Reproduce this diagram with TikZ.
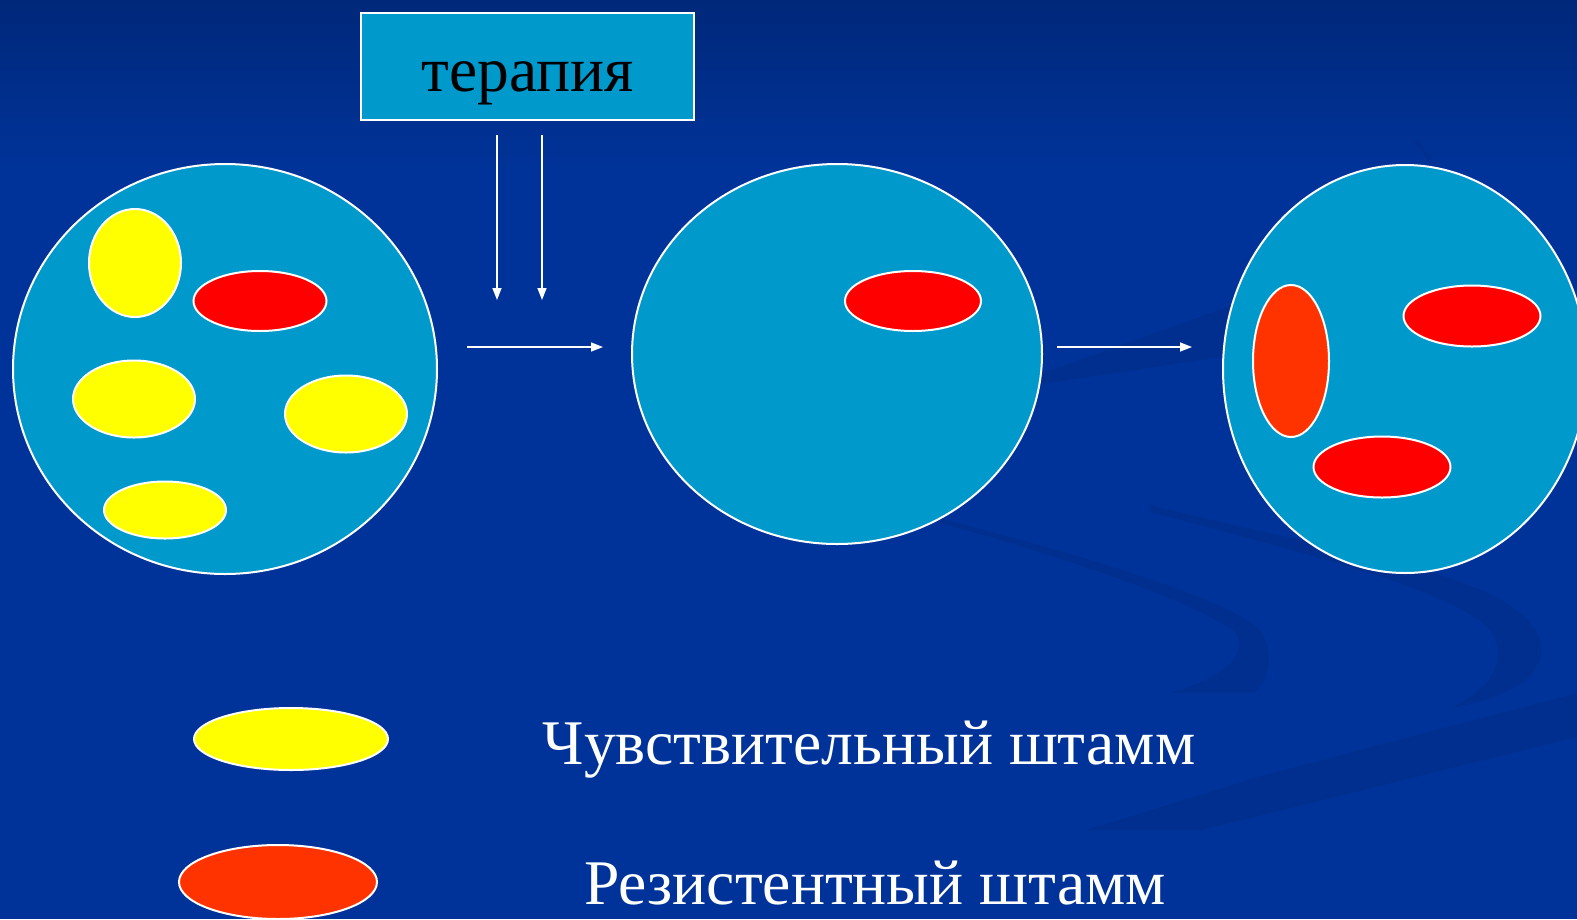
\documentclass[tikz,border=0pt]{standalone}
\usepackage{fontspec}
\setmainfont{Liberation Serif}
\usetikzlibrary{shapes.geometric,arrows.meta}
\definecolor{bgtop}{RGB}{0,40,122}
\definecolor{bgmain}{RGB}{0,51,153}
\definecolor{swoosh}{RGB}{0,47,143}
\definecolor{cellc}{RGB}{0,153,204}
\definecolor{yel}{RGB}{255,255,0}
\definecolor{redc}{RGB}{255,0,0}
\definecolor{orng}{RGB}{255,51,0}
\begin{document}
\begin{tikzpicture}[x=1pt,y=-1pt,
  cell/.style={ellipse, draw=white, line width=2pt, fill=cellc, inner sep=0pt, outer sep=0pt},
  bact/.style={ellipse, draw=white, line width=2pt, inner sep=0pt, outer sep=0pt},
  sens/.style={bact, fill=yel},
  resi/.style={bact, fill=redc},
  resio/.style={bact, fill=orng},
  arr/.style={draw=white, line width=1.5pt, -{Triangle[length=12pt,width=9pt]}},
  lbl/.style={text=white, font=\fontsize{63.6}{70}\selectfont, anchor=base, inner sep=0pt}]
\useasboundingbox (0,0) rectangle (1577,919);
\clip (0,0) rectangle (1577,919);
% background
\fill[bgmain] (0,0) rectangle (1577,919);
\shade[top color=bgtop, bottom color=bgmain] (0,0) rectangle (1577,170);
% background swooshes
\fill[swoosh] (990,392) -- (1400,245) -- (1400,330) -- cycle;
\fill[swoosh] (1418,140) -- (1432,158) -- (1428,160) -- (1414,142) -- cycle;
\fill[swoosh] (940,518) .. controls (1100,560) and (1230,600) .. (1260,630)
  .. controls (1275,650) and (1270,680) .. (1254,693) -- (1168,693)
  .. controls (1220,680) and (1250,655) .. (1235,632)
  .. controls (1200,607) and (1100,567) .. (940,523) -- cycle;
\fill[swoosh] (1150,505) .. controls (1350,555) and (1520,575) .. (1540,640)
  .. controls (1550,680) and (1500,700) .. (1450,708)
  .. controls (1490,690) and (1510,660) .. (1490,630)
  .. controls (1450,590) and (1330,560) .. (1150,512) -- cycle;
\fill[swoosh] (1086,830) -- (1232,785) -- (1253,778) -- (1577,693) -- (1577,737) -- (1202,830) -- cycle;
% therapy box
\node[draw=white, line width=2pt, fill=cellc, minimum width=333pt, minimum height=107pt, inner sep=0pt] (ther) at (527.5,66.5) {};
\node[anchor=base, inner sep=0pt, font=\fontsize{63.5}{70}\selectfont, text=black] (therlbl) at (528,91) {терапия};
% cells
\node[cell, minimum width=424pt, minimum height=410pt] (c1) at (225,369) {};
\node[cell, minimum width=410pt, minimum height=380pt] (c2) at (837,354) {};
\node[cell, minimum width=364pt, minimum height=408pt] (c3) at (1405,369) {};
% bacteria in cell 1
\node[sens, minimum width=92pt, minimum height=108pt] (y1) at (135,263) {};
\node[resi, minimum width=133pt, minimum height=60pt] (r1) at (260,301) {};
\node[sens, minimum width=122pt, minimum height=77pt] (y2) at (134,399) {};
\node[sens, minimum width=122pt, minimum height=77pt] (y3) at (346,414) {};
\node[sens, minimum width=122pt, minimum height=57pt] (y4) at (165,510) {};
% cell 2
\node[resi, minimum width=136pt, minimum height=60pt] (r2) at (913,301) {};
% cell 3
\node[resio, minimum width=76pt, minimum height=152pt] (o3) at (1291,361) {};
\node[resi, minimum width=137pt, minimum height=61pt] (r3a) at (1472,316) {};
\node[resi, minimum width=137pt, minimum height=61pt] (r3b) at (1382,467) {};
% arrows
\coordinate (v1s) at (497,135); \coordinate (v1e) at (497,300);
\coordinate (v2s) at (542,135); \coordinate (v2e) at (542,300);
\coordinate (h1s) at (467,347); \coordinate (h1e) at (603,347);
\coordinate (h2s) at (1057,347); \coordinate (h2e) at (1192,347);
\draw[arr] (v1s) -- (v1e);
\draw[arr] (v2s) -- (v2e);
\draw[arr] (h1s) -- (h1e);
\draw[arr] (h2s) -- (h2e);
% legend
\node[sens, minimum width=194pt, minimum height=62pt] (ly) at (291,739) {};
\node[resio, minimum width=198pt, minimum height=74pt] (lr) at (278,882) {};
\node[lbl] (lyt) at (869,764) {Чувствительный штамм};
\node[lbl] (lrt) at (875,904) {Резистентный штамм};
\end{tikzpicture}
\end{document}
